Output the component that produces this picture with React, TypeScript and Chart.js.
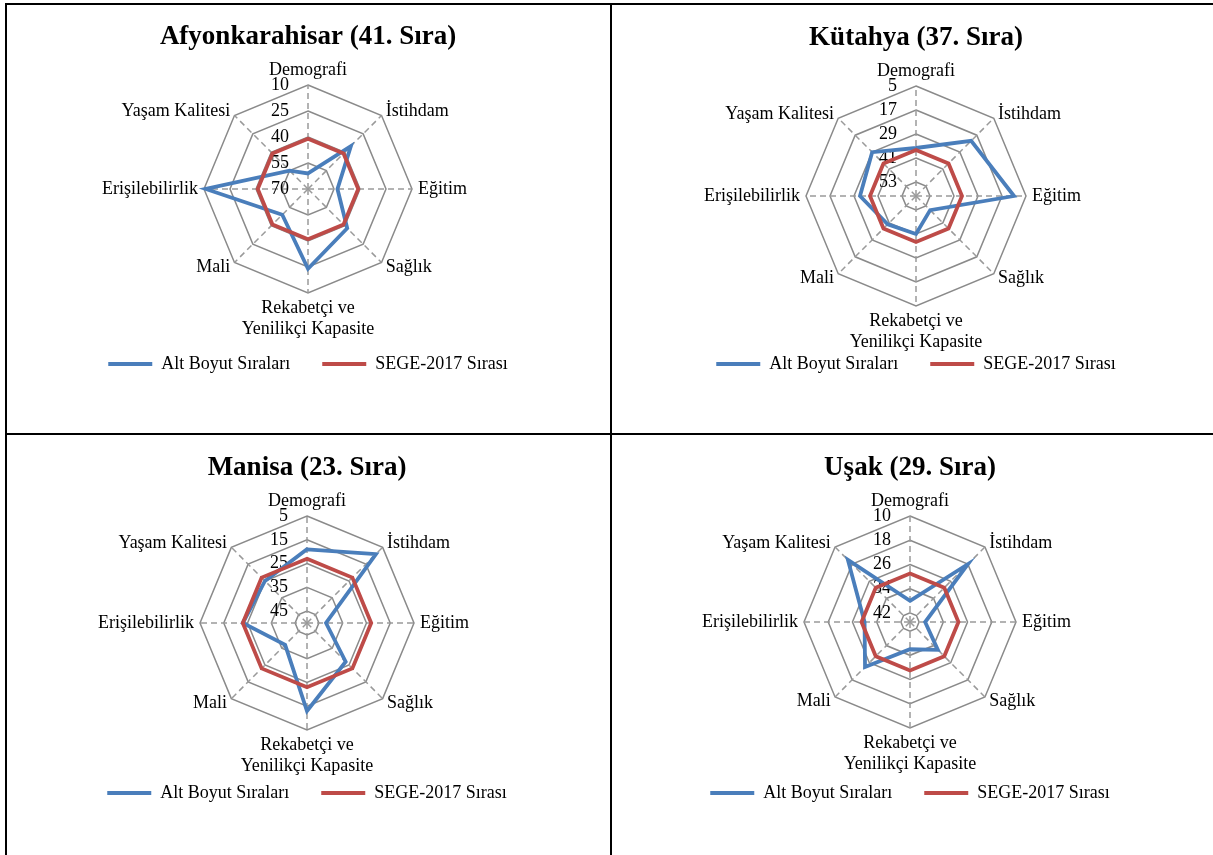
import React, { useEffect, useRef } from 'react';
import { Chart, registerables } from 'chart.js';

Chart.register(...registerables);

// ---------- data ----------
const categories: (string | string[])[] = [
  'Demografi',
  'İstihdam',
  'Eğitim',
  'Sağlık',
  ['Rekabetçi ve', 'Yenilikçi Kapasite'],
  'Mali',
  'Erişilebilirlik',
  'Yaşam Kalitesi',
];
const seriesNames = ['Alt Boyut Sıraları', 'SEGE-2017 Sırası'];

const afyonTitle = 'Afyonkarahisar (41. Sıra)';
const afyonAlt = [61, 35, 53, 38, 24, 49, 11, 55];
const afyonSege = [41, 41, 41, 41, 41, 41, 41, 41];
const afyonTicks = [10, 25, 40, 55, 70];
const afyonRange = [10, 70];

const kutahyaTitle = 'Kütahya (37. Sıra)';
const kutahyaAlt = [36, 21, 11, 50, 41, 40, 32, 29];
const kutahyaSege = [37, 37, 37, 37, 37, 37, 37, 37];
const kutahyaTicks = [5, 17, 29, 41, 53];
const kutahyaRange = [5, 60];

const manisaTitle = 'Manisa (23. Sıra)';
const manisaAlt = [19, 9, 42, 27, 13, 37, 23, 25];
const manisaSege = [23, 23, 23, 23, 23, 23, 23, 23];
const manisaTicks = [5, 15, 25, 35, 45];
const manisaRange = [5, 50];

const usakTitle = 'Uşak (29. Sıra)';
const usakAlt = [38, 18, 40, 32, 36, 24, 30, 16];
const usakSege = [29, 29, 29, 29, 29, 29, 29, 29];
const usakTicks = [10, 18, 26, 34, 42];
const usakRange = [10, 45];

// ---------- style ----------
const SERIF = '"Liberation Serif", "Times New Roman", serif';
const BLUE = '#4a7ebb';
const RED = '#be4b48';
const GRID = '#8a8a8a';
const ANGLE = '#9a9a9a';

type Panel = {
  title: string;
  alt: number[];
  sege: number[];
  ticks: number[];
  range: number[];
  cx: number;
  cy: number;
  r: number;
  top: number;
  titleY: number;
  legendY: number;
};

const panels: Panel[] = [
  { title: afyonTitle, alt: afyonAlt, sege: afyonSege, ticks: afyonTicks, range: afyonRange, cx: 308, cy: 189, r: 104, top: 6, titleY: 37, legendY: 364 },
  { title: kutahyaTitle, alt: kutahyaAlt, sege: kutahyaSege, ticks: kutahyaTicks, range: kutahyaRange, cx: 916, cy: 196, r: 110, top: 6, titleY: 38, legendY: 364 },
  { title: manisaTitle, alt: manisaAlt, sege: manisaSege, ticks: manisaTicks, range: manisaRange, cx: 307, cy: 623, r: 107, top: 437, titleY: 468, legendY: 793 },
  { title: usakTitle, alt: usakAlt, sege: usakSege, ticks: usakTicks, range: usakRange, cx: 910, cy: 622, r: 106, top: 437, titleY: 468, legendY: 793 },
];

const W = 590;
const TITLE_LH = 32;
const LEG_FONT = 18;
const LEG_PAD = 32;
const LEG_TITLE_LH = 12;

function makeTextPlugin(tickVals: number[]) {
  return {
    id: 'radarText',
    beforeDatasetsDraw(chart: any) {
      const s = chart.scales.r;
      const ctx = chart.ctx;
      ctx.save();
      ctx.fillStyle = '#000';
      ctx.font = `18px ${SERIF}`;
      ctx.textAlign = 'right';
      ctx.textBaseline = 'middle';
      tickVals.forEach((v) => {
        ctx.fillText(String(v), s.xCenter - 19, s.yCenter - s.getDistanceFromCenterForValue(v));
      });
      ctx.restore();
    },
    afterDatasetsDraw(chart: any) {
      const s = chart.scales.r;
      const ctx = chart.ctx;
      ctx.save();
      ctx.fillStyle = '#000';
      ctx.font = `18px ${SERIF}`;
      const labels = chart.data.labels as (string | string[])[];
      const lh = 21;
      labels.forEach((lab, i) => {
        const p = s.getPointPosition(i, s.drawingArea + 6);
        const c = Math.cos(p.angle);
        const sn = Math.sin(p.angle);
        const lines = Array.isArray(lab) ? lab : [lab];
        let y0 = p.y;
        if (Math.abs(c) < 0.01) {
          ctx.textAlign = 'center';
          if (sn < 0) {
            ctx.textBaseline = 'bottom';
            y0 = p.y - (lines.length - 1) * lh;
          } else {
            ctx.textBaseline = 'top';
          }
        } else {
          ctx.textAlign = c > 0 ? 'left' : 'right';
          ctx.textBaseline = 'middle';
          y0 = p.y - ((lines.length - 1) * lh) / 2;
        }
        lines.forEach((t, k) => ctx.fillText(t, p.x, y0 + k * lh));
      });
      ctx.restore();
    },
  };
}

function RadarPanel({ p }: { p: Panel }) {
  const ref = useRef<HTMLCanvasElement>(null);
  const top = p.top;
  const titleBoxH = p.cy - p.r - top;
  const pt = p.titleY - top - TITLE_LH / 2;
  const pb = titleBoxH - pt - TITLE_LH;
  const lt = p.legendY - (p.cy + p.r) - LEG_PAD - LEG_FONT / 2 - LEG_TITLE_LH;
  const legendH = LEG_TITLE_LH + lt + LEG_FONT + LEG_PAD + 10;
  const H = titleBoxH + 2 * p.r + legendH;
  const left = p.cx - W / 2;

  useEffect(() => {
    const [rMin, rMax] = p.range;
    const chart = new Chart(ref.current as HTMLCanvasElement, {
      type: 'radar',
      data: {
        labels: categories as any,
        datasets: [
          {
            label: seriesNames[0],
            data: p.alt,
            borderColor: BLUE,
            backgroundColor: BLUE,
            borderWidth: 3.8,
            fill: false,
            pointRadius: 0,
            pointHoverRadius: 0,
            order: 1,
          },
          {
            label: seriesNames[1],
            data: p.sege,
            borderColor: RED,
            backgroundColor: RED,
            borderWidth: 3.8,
            fill: false,
            pointRadius: 0,
            pointHoverRadius: 0,
            order: 0,
          },
        ],
      },
      options: {
        responsive: false,
        animation: false,
        layout: { padding: 0 },
        plugins: {
          title: {
            display: true,
            text: p.title,
            color: '#000',
            font: { family: SERIF, size: 27, weight: 'bold', lineHeight: `${TITLE_LH}px` },
            padding: { top: pt, bottom: pb },
          },
          legend: {
            display: true,
            position: 'bottom',
            title: {
              display: true,
              text: '',
              font: { size: 10, lineHeight: `${LEG_TITLE_LH}px` },
              padding: { top: lt, bottom: 0 },
            },
            labels: {
              color: '#000',
              font: { family: SERIF, size: LEG_FONT },
              boxWidth: 44,
              boxHeight: 4,
              padding: LEG_PAD,
              sort: (a: any, b: any) => a.datasetIndex - b.datasetIndex,
              generateLabels: (ch: any) =>
                (Chart.defaults.plugins.legend.labels.generateLabels as any)(ch).map((l: any) => ({
                  ...l,
                  fillStyle: l.strokeStyle,
                  lineWidth: 0,
                })),
            },
          },
          tooltip: { enabled: false },
        },
        scales: {
          r: {
            min: rMin,
            max: rMax,
            reverse: true,
            afterBuildTicks: (s: any) => {
              s.ticks = [{ value: rMax }, ...p.ticks.map((v) => ({ value: v }))];
            },
            ticks: { display: false },
            pointLabels: { display: false },
            grid: { color: GRID, lineWidth: 1.5 },
            angleLines: { color: ANGLE, lineWidth: 1.5, borderDash: [6, 4] },
          },
        },
      } as any,
      plugins: [makeTextPlugin(p.ticks)],
    });
    return () => chart.destroy();
  }, []);

  return (
    <canvas
      ref={ref}
      width={W}
      height={H}
      style={{ position: 'absolute', left, top, width: W, height: H }}
    />
  );
}

export default function App() {
  const line = (s: React.CSSProperties) => (
    <div style={{ position: 'absolute', background: '#000', ...s }} />
  );
  return (
    <div
      style={{
        position: 'fixed',
        left: 0,
        top: 0,
        width: 1213,
        height: 855,
        overflow: 'hidden',
        background: '#fff',
      }}
    >
      {line({ left: 5, top: 3, width: 1208, height: 2 })}
      {line({ left: 5, top: 3, width: 2, height: 852 })}
      {line({ left: 610, top: 3, width: 2, height: 852 })}
      {line({ left: 5, top: 433, width: 1208, height: 2 })}
      {panels.map((p, i) => (
        <RadarPanel key={i} p={p} />
      ))}
    </div>
  );
}
